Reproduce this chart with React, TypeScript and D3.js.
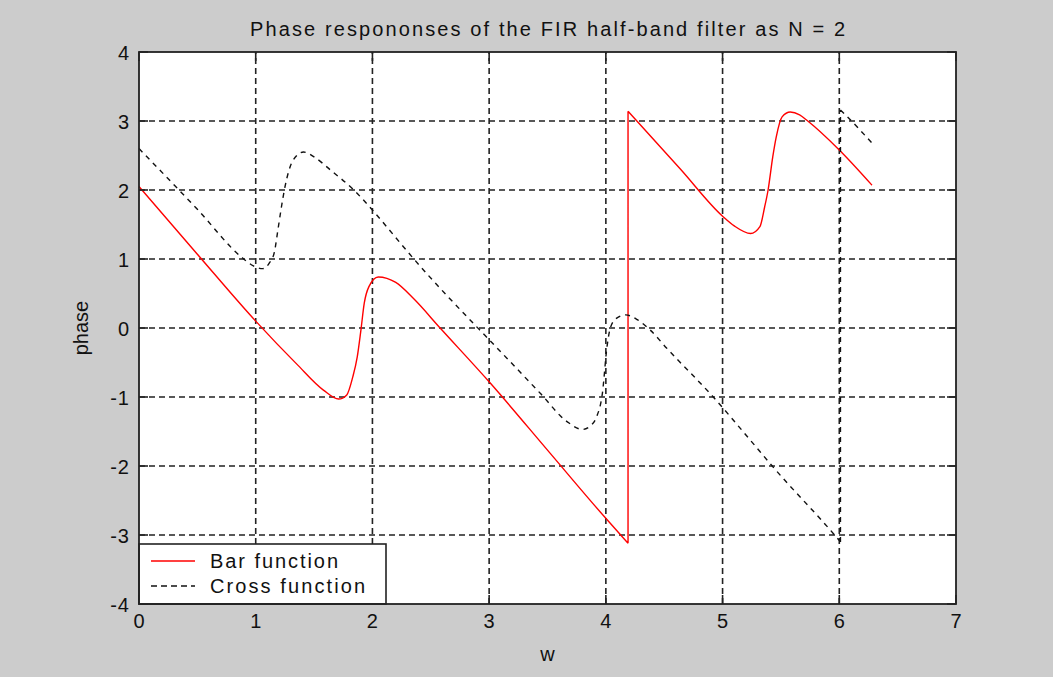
import React from "react";
import * as d3 from "d3";

// Frequency samples (rad) and wrapped phase for each filter branch
const barW1 = [0, 0.5, 1.0, 1.35, 1.58, 1.71, 1.78, 1.83, 1.87, 1.9, 1.93, 1.97, 2.05, 2.2, 2.35, 2.58, 3.0, 3.52, 3.99, 4.19];
const barP1 = [2.05, 1.07, 0.1, -0.52, -0.9, -1.03, -0.97, -0.72, -0.42, -0.05, 0.36, 0.6, 0.74, 0.66, 0.43, 0.0, -0.78, -1.81, -2.74, -3.12];
const barW2 = [4.19, 4.64, 5.0, 5.1, 5.24, 5.32, 5.36, 5.39, 5.43, 5.46, 5.51, 5.58, 5.66, 5.73, 6.0, 6.28];
const barP2 = [3.14, 2.3, 1.62, 1.48, 1.37, 1.47, 1.75, 2.0, 2.48, 2.77, 3.06, 3.13, 3.09, 3.0, 2.58, 2.07];

const crossW1 = [0, 0.5, 0.89, 0.98, 1.06, 1.12, 1.16, 1.19, 1.22, 1.25, 1.32, 1.41, 1.5, 1.64, 1.84, 2.0, 2.18, 2.35, 2.92, 3.0, 3.44, 3.67, 3.8, 3.88, 3.92, 3.97, 4.01, 4.04, 4.09, 4.17, 4.27, 4.38, 4.52, 4.92, 5.24, 5.42, 5.98, 6.01];
const crossP1 = [2.6, 1.72, 1.01, 0.9, 0.86, 0.95, 1.1, 1.42, 1.75, 2.04, 2.43, 2.55, 2.48, 2.29, 2.0, 1.71, 1.35, 1.01, -0.03, -0.17, -0.95, -1.36, -1.47, -1.4, -1.29, -0.95, -0.27, 0.01, 0.14, 0.19, 0.12, -0.03, -0.29, -1.0, -1.63, -1.99, -3.04, -3.1];
const crossW2 = [6.01, 6.07, 6.28];
const crossP2 = [3.16, 3.06, 2.68];

const xTicks = [0, 1, 2, 3, 4, 5, 6, 7];
const yTicks = [-4, -3, -2, -1, 0, 1, 2, 3, 4];

const titleText = "Phase respononses of the FIR half-band filter as N = 2";
const xLabel = "w";
const yLabel = "phase";
const legendLabels = ["Bar function", "Cross function"];

const W = 1053;
const H = 677;
const L = 139, R = 956, T = 52, B = 604;
const FONT = "'Liberation Sans', Arial, sans-serif";

export default function App() {
  const x = d3.scaleLinear().domain([0, 7]).range([L, R]);
  const y = d3.scaleLinear().domain([-4, 4]).range([B, T]);

  const zip = (ws: number[], ps: number[]) => ws.map((w, i) => [w, ps[i]] as [number, number]);
  const smooth = d3.line<[number, number]>().x(d => x(d[0])).y(d => y(d[1])).curve(d3.curveMonotoneX);

  const bar1 = zip(barW1, barP1);
  const bar2 = zip(barW2, barP2);
  const cross1 = zip(crossW1, crossP1);
  const cross2 = zip(crossW2, crossP2);

  // the wrap-around from -π to π is a straight jump between the two pieces
  const jump = (a: [number, number][], b: [number, number][]) => {
    const p = a[a.length - 1], q = b[0];
    return `M${x(p[0])},${y(p[1])}L${x(q[0])},${y(q[1])}`;
  };

  const barPath = (smooth(bar1) ?? "") + jump(bar1, bar2) + (smooth(bar2) ?? "");
  const crossPath = (smooth(cross1) ?? "") + jump(cross1, cross2) + (smooth(cross2) ?? "");

  const tickLen = 9;
  const gridDash = "6,4";

  return (
    <svg width={W} height={H} style={{ position: "absolute", left: 0, top: 0, display: "block" }}>
      <rect x={0} y={0} width={W} height={H} fill="#cccccc" />
      <rect x={L} y={T} width={R - L} height={B - T} fill="#ffffff" />

      {/* grid */}
      <g stroke="#222" strokeWidth={1.6} strokeDasharray={gridDash}>
        {xTicks.slice(1, -1).map(t => (
          <line key={"gx" + t} x1={x(t)} x2={x(t)} y1={B} y2={T} />
        ))}
        {yTicks.slice(1, -1).map(t => (
          <line key={"gy" + t} x1={L} x2={R} y1={y(t)} y2={y(t)} />
        ))}
      </g>

      {/* curves */}
      <path d={barPath} fill="none" stroke="#ff0000" strokeWidth={1.4} />
      <path d={crossPath} fill="none" stroke="#111" strokeWidth={1.4} strokeDasharray="5,5" />

      {/* inward ticks on all four sides */}
      <g stroke="#222" strokeWidth={1.6}>
        {xTicks.map(t => (
          <g key={"tx" + t}>
            <line x1={x(t)} x2={x(t)} y1={B} y2={B - tickLen} />
            <line x1={x(t)} x2={x(t)} y1={T} y2={T + tickLen} />
          </g>
        ))}
        {yTicks.map(t => (
          <g key={"ty" + t}>
            <line x1={L} x2={L + tickLen} y1={y(t)} y2={y(t)} />
            <line x1={R} x2={R - tickLen} y1={y(t)} y2={y(t)} />
          </g>
        ))}
      </g>

      {/* legend */}
      <g>
        <rect x={L} y={544} width={247} height={B - 544} fill="#ffffff" stroke="#222" strokeWidth={1.6} />
        <line x1={151} x2={195} y1={561} y2={561} stroke="#ff0000" strokeWidth={1.4} />
        <line x1={151} x2={195} y1={586} y2={586} stroke="#111" strokeWidth={1.4} strokeDasharray="6,4" />
        <text x={210} y={568} fontFamily={FONT} fontSize={20} fill="#111" textLength={128} lengthAdjust="spacing">{legendLabels[0]}</text>
        <text x={210} y={593} fontFamily={FONT} fontSize={20} fill="#111" textLength={155} lengthAdjust="spacing">{legendLabels[1]}</text>
      </g>

      {/* axes box */}
      <rect x={L} y={T} width={R - L} height={B - T} fill="none" stroke="#222" strokeWidth={1.8} />

      {/* tick labels */}
      <g fontFamily={FONT} fontSize={20} fill="#111">
        {xTicks.map(t => (
          <text key={"lx" + t} x={x(t)} y={628} textAnchor="middle">{t}</text>
        ))}
        {yTicks.map(t => (
          <text key={"ly" + t} x={130} y={y(t) + 8} textAnchor="end" letterSpacing={1}>{t}</text>
        ))}
      </g>

      <text x={250} y={36} fontFamily={FONT} fontSize={20} fill="#111" textLength={595} lengthAdjust="spacing">{titleText}</text>
      <text x={(L + R) / 2} y={661} textAnchor="middle" fontFamily={FONT} fontSize={20} fill="#111">{xLabel}</text>
      <text transform={`translate(88,${(T + B) / 2}) rotate(-90)`} textAnchor="middle" fontFamily={FONT} fontSize={20} fill="#111">{yLabel}</text>
    </svg>
  );
}
